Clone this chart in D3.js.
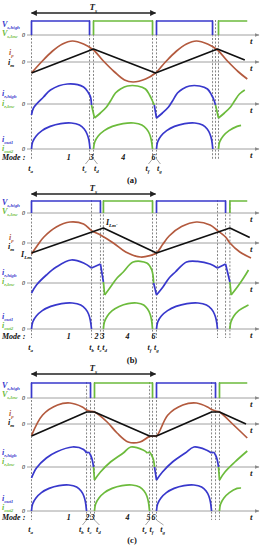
<!DOCTYPE html>
<meta charset="utf-8">
<style>
  body { margin: 0; background: #fff; }
  svg text { font-family: "Liberation Serif", "Times New Roman", serif; font-style: italic; font-weight: bold; font-size: 8px; }
  .axis { stroke: #a0a0a0; stroke-width: 1; }
  .dash { stroke: #666; stroke-width: 0.8; stroke-dasharray: 2,1.6; }
  .lead { stroke: #666; stroke-width: 0.6; }
  .wave { fill: none; stroke-width: 1.7; stroke-linejoin: round; }
  .zero { font-size: 6px; font-weight: normal; text-anchor: end; }
  .cap { font-style: normal; text-anchor: middle; font-size: 8.5px; }
</style>
<svg width="265" height="550"></svg>
<script src="https://d3js.org/d3.v7.min.js"></script>
<script>

var blue = "#3838cc", green = "#6cbb3c", brown = "#b35a3e";

// time is in units of Ts (t_a = 0); a third element 1 marks a sharp corner

// ---- panel (a)
var evA = [0, 0.468, 0.5, 0.976, 1.008, 1.46, 1.484, 1.508];
var vHighA = [[0, 0.468], [1.008, 1.46]];
var vLowA = [[0.5, 0.976], [1.508, 1.74]];
var ipA = [[0,-0.55],[0.08,0.0],[0.17,0.55],[0.25,0.9],[0.33,1.05],[0.42,0.9],[0.5,0.6],[0.58,0.05],[0.67,-0.5],[0.75,-0.9],[0.82,-1.0],[0.92,-0.85],[1.0,-0.55],[1.08,0.0],[1.17,0.55],[1.25,0.9],[1.33,1.05],[1.42,0.9],[1.5,0.6],[1.58,0.05],[1.67,-0.5],[1.74,-0.85]];
var imA = [[0,-0.55],[0.5,0.65],[1.0,-0.55],[1.5,0.65],[1.72,0.1]];
var lrHighA = [
  [[0,-0.55],[0.016,-0.2],[0.097,0.35],[0.153,0.7],[0.29,1.0],[0.42,0.85],[0.46,0.55],[0.476,0.35],[0.484,-0.05]],
  [[0.99,-0.05],[1.008,-0.7,1],[1.056,-0.45],[1.105,-0.15],[1.137,0.15],[1.177,0.55],[1.218,0.75],[1.274,0.9],[1.355,0.9],[1.419,0.75],[1.452,0.45],[1.468,0.25],[1.484,-0.05]]
];
var lrLowA = [
  [[0.484,-0.05],[0.508,-0.7,1],[0.556,-0.45],[0.605,-0.15],[0.637,0.15],[0.677,0.55],[0.718,0.75],[0.774,0.9],[0.855,0.9],[0.919,0.75],[0.952,0.45],[0.968,0.25],[0.99,-0.05]],
  [[1.484,-0.05],[1.508,-0.7,1],[1.556,-0.45],[1.605,-0.15],[1.637,0.15],[1.677,0.5],[1.72,0.7]]
];
var outHighA = [
  [[0,0],[0.009,0.35],[0.038,0.65],[0.085,0.92],[0.151,1.13],[0.236,1.27],[0.321,1.3],[0.387,1.2],[0.425,1.0],[0.448,0.75],[0.463,0.45],[0.472,0]],
  [[1.008,0],[1.017,0.35],[1.044,0.65],[1.09,0.92],[1.153,1.13],[1.235,1.27],[1.317,1.3],[1.38,1.2],[1.417,1.0],[1.439,0.75],[1.453,0.45],[1.462,0]]
];
var outLowA = [
  [[0.5,0],[0.51,0.35],[0.538,0.65],[0.586,0.92],[0.652,1.13],[0.738,1.27],[0.824,1.3],[0.89,1.2],[0.928,1.0],[0.952,0.75],[0.966,0.45],[0.976,0]],
  [[1.508,0],[1.517,0.35],[1.546,0.65],[1.593,0.92],[1.658,1.13],[1.69,1.18]]
];
var modesA = [["1",0.3],["3",0.484],["4",0.74],["6",0.984]];
var tLabA = [["a",0,0],["c",0.468,0.435],["d",0.5,0.532],["f",0.976,0.943],["g",1.008,1.04]];

// ---- panel (b)
var evB = [0, 0.484, 0.556, 0.58, 0.976, 1.008, 1.5, 1.565, 1.6];
var vHighB = [[0, 0.556], [1.008, 1.565]];
var vLowB = [[0.58, 0.976], [1.6, 1.74]];
var ipB = [[0,-0.55],[0.05,-0.1],[0.1,0.3],[0.2,0.8],[0.31,1.05],[0.42,0.95],[0.484,0.62],[0.556,0.4],[0.66,0.0],[0.76,-0.45],[0.88,-0.7],[0.96,-0.62],[1.008,-0.5],[1.06,-0.05],[1.11,0.35],[1.21,0.82],[1.33,1.05],[1.44,0.9],[1.5,0.62],[1.565,0.3],[1.6,0.0],[1.68,-0.45],[1.77,-0.75]];
var imB = [[0,-0.5],[0.58,0.75],[1.008,-0.5],[1.6,0.75],[1.76,0.28]];
var lrHighB = [
  [[0,-0.5],[0.04,-0.1],[0.12,0.4],[0.2,0.8],[0.32,1.15],[0.42,1.0],[0.484,0.75,1],[0.556,0.95,1],[0.58,0.05]],
  [[0.985,0.0],[1.008,-0.6,1],[1.06,-0.2],[1.11,0.25],[1.16,0.55],[1.25,1.05],[1.34,1.08],[1.44,0.95],[1.5,0.75,1],[1.565,0.95,1],[1.6,0.05]]
];
var lrLowB = [
  [[0.58,0.05],[0.59,-0.6,1],[0.637,-0.2],[0.69,0.25],[0.74,0.55],[0.82,1.05],[0.93,1.0],[0.97,0.65],[0.985,0.0]],
  [[1.6,0.05],[1.61,-0.6,1],[1.66,-0.2],[1.71,0.25],[1.75,0.65]]
];
var outHighB = [
  [[0,0],[0.01,0.35],[0.039,0.65],[0.087,0.92],[0.155,1.13],[0.242,1.27],[0.329,1.3],[0.397,1.2],[0.436,1.0],[0.46,0.75],[0.474,0.45],[0.484,0]],
  [[1.008,0],[1.018,0.35],[1.047,0.65],[1.097,0.92],[1.165,1.13],[1.254,1.27],[1.343,1.3],[1.411,1.2],[1.451,1.0],[1.475,0.75],[1.49,0.45],[1.5,0]]
];
var outLowB = [
  [[0.58,0],[0.588,0.35],[0.612,0.65],[0.651,0.92],[0.707,1.13],[0.778,1.27],[0.849,1.3],[0.905,1.2],[0.936,1.0],[0.956,0.75],[0.968,0.45],[0.976,0]],
  [[1.6,0],[1.608,0.35],[1.632,0.65],[1.671,0.92],[1.727,1.13],[1.75,1.2]]
];
var modesB = [["1",0.3],["2",0.524],["3",0.573],["4",0.774],["6",0.984]];
var tLabB = [["a",0,0],["b",0.484,0.492],["c",0.556,0.556],["d",0.58,0.597],["f",0.976,0.96],["g",1.008,1.016]];

// ---- panel (c)
var evC = [0, 0.444, 0.476, 0.508, 0.952, 0.976, 1.008, 1.452, 1.484, 1.516];
var vHighC = [[0, 0.476], [1.008, 1.484]];
var vLowC = [[0.508, 0.976], [1.516, 1.74]];
var ipC = [[0,-0.58],[0.09,0.45],[0.21,0.95],[0.31,1.05],[0.41,0.85],[0.444,0.7],[0.476,0.64],[0.508,0.6],[0.61,0.1],[0.69,-0.45],[0.78,-0.9],[0.875,-0.9],[0.952,-0.62],[0.98,-0.6],[1.008,-0.6],[1.1,0.45],[1.22,0.95],[1.33,1.05],[1.42,0.85],[1.452,0.72],[1.484,0.65],[1.516,0.6],[1.63,-0.05],[1.74,-0.7]];
var imC = [[0,-0.6],[0.444,0.6],[0.508,0.6],[0.952,-0.6],[1.008,-0.6],[1.452,0.6],[1.516,0.6],[1.73,0.0]];
var lrHighC = [
  [[0,-0.55],[0.04,-0.05],[0.12,0.45],[0.2,0.75],[0.33,1.0],[0.42,0.88],[0.444,0.7,1],[0.46,0.75,1],[0.476,0.6],[0.49,0.35],[0.5,0.0]],
  [[0.992,0.0],[1.008,-0.65,1],[1.056,-0.25],[1.137,0.25],[1.24,0.7],[1.31,1.0],[1.41,0.85],[1.452,0.7,1],[1.468,0.75,1],[1.484,0.6],[1.498,0.35],[1.508,0.0]]
];
var lrLowC = [
  [[0.5,0.0],[0.508,-0.65,1],[0.556,-0.25],[0.637,0.25],[0.74,0.7],[0.8,1.0],[0.9,0.85],[0.935,0.7,1],[0.952,0.75,1],[0.968,0.6],[0.984,0.35],[0.992,0.0]],
  [[1.508,0.0],[1.516,-0.65,1],[1.56,-0.25],[1.64,0.25],[1.74,0.8]]
];
var outHighC = [
  [[0,0],[0.009,0.35],[0.036,0.65],[0.08,0.92],[0.142,1.13],[0.222,1.27],[0.302,1.3],[0.364,1.2],[0.4,1.0],[0.422,0.75],[0.435,0.45],[0.444,0]],
  [[1.008,0],[1.017,0.35],[1.044,0.65],[1.088,0.92],[1.15,1.13],[1.23,1.27],[1.31,1.3],[1.372,1.2],[1.408,1.0],[1.43,0.75],[1.443,0.45],[1.452,0]]
];
var outLowC = [
  [[0.508,0],[0.517,0.35],[0.544,0.65],[0.588,0.92],[0.65,1.13],[0.73,1.27],[0.81,1.3],[0.872,1.2],[0.908,1.0],[0.93,0.75],[0.943,0.45],[0.952,0]],
  [[1.516,0],[1.525,0.35],[1.552,0.65],[1.596,0.92],[1.658,1.13],[1.69,1.15]]
];
var modesC = [["1",0.3],["2",0.452],["3",0.492],["4",0.774],["5",0.944],["6",0.984]];
var tLabC = [["a",0,0],["b",0.444,0.411],["c",0.476,0.476],["d",0.508,0.548],["e",0.952,0.919],["f",0.976,0.976],["g",1.008,1.065]];

// layout (pixel rows of each panel)
var panels = [
  { ev: evA, vh: vHighA, vl: vLowA, ip: ipA, im: imA, lh: lrHighA, ll: lrLowA, oh: outHighA, ol: outLowA, modes: modesA, tl: tLabA, cap: "(a)", lead: true,
    L: { arrow: 13, vTop: 21, vZero: 35, ipZero: 62, lrZero: 104, outZero: 149, mode: 157, tRow: 168, cap: 180,
         lab: [27, 36, 55, 65, 96, 106, 142, 151] } },
  { ev: evB, vh: vHighB, vl: vLowB, ip: ipB, im: imB, lh: lrHighB, ll: lrLowB, oh: outHighB, ol: outLowB, modes: modesB, tl: tLabB, cap: "(b)", lead: false, lm: true,
    L: { arrow: 194, vTop: 201, vZero: 213, ipZero: 243, lrZero: 283, outZero: 329, mode: 336, tRow: 347, cap: 360,
         lab: [205, 214, 240, 249, 275, 284, 319, 328] } },
  { ev: evC, vh: vHighC, vl: vLowC, ip: ipC, im: imC, lh: lrHighC, ll: lrLowC, oh: outHighC, ol: outLowC, modes: modesC, tl: tLabC, cap: "(c)", lead: true,
    L: { arrow: 374, vTop: 383, vZero: 398, ipZero: 424, lrZero: 467, outZero: 511, mode: 517, tRow: 529, cap: 540,
         lab: [388, 397, 416, 425, 455, 464, 501, 510] } }
];

var svg = d3.select("svg");
var defs = svg.append("defs");
defs.append("marker").attr("id", "ga").attr("viewBox", "0 0 10 10").attr("refX", 9).attr("refY", 5)
  .attr("markerWidth", 5).attr("markerHeight", 5).attr("markerUnits", "userSpaceOnUse").attr("orient", "auto")
  .append("path").attr("d", "M0,1L10,5L0,9Z").attr("fill", "#8a8a8a");
defs.append("marker").attr("id", "ka").attr("viewBox", "0 0 10 10").attr("refX", 9).attr("refY", 5)
  .attr("markerWidth", 7).attr("markerHeight", 6).attr("markerUnits", "userSpaceOnUse").attr("orient", "auto-start-reverse")
  .append("path").attr("d", "M0,0L10,5L0,10Z").attr("fill", "#222");

var x = d3.scaleLinear().domain([0, 1]).range([31.5, 155.5]);

// split a point list at its corner points
function pieces(pts) {
  var out = [], cur = [];
  pts.forEach(function(p) {
    cur.push(p);
    if (p[2] && cur.length > 1) { out.push(cur); cur = [p]; }
  });
  if (cur.length > 1) out.push(cur);
  return out;
}

function sub(g, px, py, main, s, color, size, anchor) {
  var t = g.append("text").attr("x", px).attr("y", py).attr("fill", color)
    .style("font-size", size + "px").attr("text-anchor", anchor || "start");
  t.append("tspan").text(main);
  t.append("tspan").attr("dy", size * 0.3).style("font-size", (size * 0.62) + "px").text(s);
  return t;
}

panels.forEach(function(p) {
  var L = p.L, g = svg.append("g");
  var yV = d3.scaleLinear().domain([0, 1]).range([L.vZero, L.vTop]);
  var yI = d3.scaleLinear().domain([-1, 1]).range([L.ipZero + 20, L.ipZero - 20]);
  var yR = d3.scaleLinear().domain([-1, 1]).range([L.lrZero + 20, L.lrZero - 20]);
  var yO = d3.scaleLinear().domain([-1, 1]).range([L.outZero + 20, L.outZero - 20]);

  // dashed event lines
  g.selectAll(".dash").data(p.ev).enter().append("line").attr("class", "dash")
    .attr("x1", function(d) { return x(d); }).attr("x2", function(d) { return x(d); })
    .attr("y1", L.vTop - 1).attr("y2", L.tRow - 9);

  // axes
  [L.vZero, L.ipZero, L.lrZero, L.outZero].forEach(function(z) {
    g.append("line").attr("class", "axis").attr("x1", 27).attr("x2", 259).attr("y1", z).attr("y2", z)
      .attr("marker-end", "url(#ga)");
    g.append("text").attr("class", "zero").attr("x", 25).attr("y", z + 2).text("0");
    g.append("text").attr("x", 250).attr("y", z + 9).attr("fill", "#222").style("font-size", "9px").text("t");
  });

  // Ts arrow
  g.append("line").attr("x1", x(0)).attr("x2", x(1)).attr("y1", L.arrow).attr("y2", L.arrow)
    .attr("stroke", "#222").attr("stroke-width", 1.6)
    .attr("marker-start", "url(#ka)").attr("marker-end", "url(#ka)");
  sub(g, x(0.5) - 4, L.arrow - 3, "T", "s", "#222", 9);

  // gate voltages
  var vline = d3.line().x(function(d) { return x(d[0]); }).y(function(d) { return yV(d[1]); });
  function pulses(list, color) {
    list.forEach(function(iv) {
      var pts = [[iv[0], 0], [iv[0], 1], [iv[1], 1]];
      if (iv[1] < 1.7) pts.push([iv[1], 0]);
      g.append("path").attr("class", "wave").attr("stroke", color).attr("stroke-width", 2).attr("d", vline(pts));
    });
  }
  pulses(p.vh, blue);
  pulses(p.vl, green);

  // currents
  var smooth = d3.curveCatmullRom.alpha(0.5);
  function wave(data, y, color, curve) {
    var line = d3.line().x(function(d) { return x(d[0]); }).y(function(d) { return y(d[1]); }).curve(curve);
    pieces(data).forEach(function(seg) {
      g.append("path").attr("class", "wave").attr("stroke", color).attr("d", line(seg));
    });
  }
  wave(p.ip, yI, brown, smooth);
  wave(p.im, yI, "#111", d3.curveLinear);
  p.lh.forEach(function(c) { wave(c, yR, blue, smooth); });
  p.ll.forEach(function(c) { wave(c, yR, green, smooth); });
  p.oh.forEach(function(c) { wave(c, yO, blue, smooth); });
  p.ol.forEach(function(c) { wave(c, yO, green, smooth); });

  // left labels
  var b = L.lab;
  sub(g, 2, b[0], "V", "s,high", blue, 8);
  sub(g, 2, b[1], "V", "s,low", green, 8);
  sub(g, 9, b[2], "i", "p", brown, 8);
  sub(g, 8, b[3], "i", "m", "#111", 8);
  sub(g, 2, b[4], "i", "r,high", blue, 8);
  sub(g, 2, b[5], "i", "r,low", green, 8);
  sub(g, 2, b[6], "i", "out1", blue, 8);
  sub(g, 2, b[7], "i", "out2", green, 8);
  if (p.lm) {
    sub(g, 21, yI(-0.7), "I", "Lm", "#111", 8);
    sub(g, x(0.6), yI(0.9), "I", "Lm'", "#111", 8);
  }

  // mode row
  g.append("text").attr("x", 2).attr("y", L.mode + 3).attr("fill", "#111").text("Mode :");
  g.selectAll(".mode").data(p.modes).enter().append("text").attr("class", "mode")
    .attr("x", function(d) { return x(d[1]); }).attr("y", L.mode + 3).attr("text-anchor", "middle")
    .attr("fill", "#111").text(function(d) { return d[0]; });

  // time instants
  p.tl.forEach(function(d) {
    if (p.lead && Math.abs(x(d[2]) - x(d[1])) > 1.5) {
      g.append("line").attr("class", "lead").attr("x1", x(d[1])).attr("x2", x(d[2]))
        .attr("y1", L.tRow - 9).attr("y2", L.tRow - 4);
    }
    sub(g, x(d[2]) - 1, L.tRow + 3, "t", d[0], "#111", 8, "middle");
  });

  g.append("text").attr("class", "cap").attr("x", 132).attr("y", L.cap + 3).attr("fill", "#111").text(p.cap);
});

</script>
